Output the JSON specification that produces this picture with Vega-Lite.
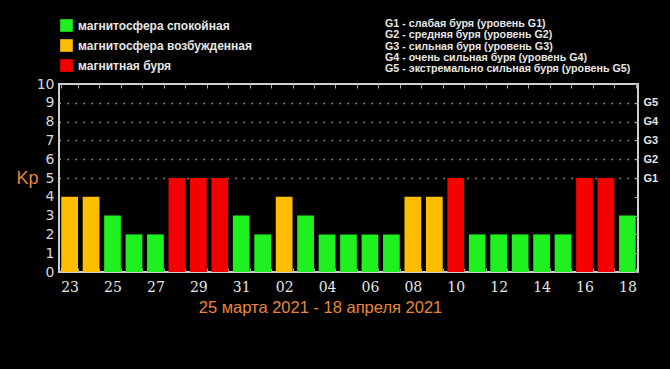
{
  "$schema": "https://vega.github.io/schema/vega-lite/v6.json",
  "width": 579,
  "height": 188,
  "autosize": {"type": "none"},
  "padding": {"left": 59, "top": 84, "right": 32, "bottom": 97},
  "background": "#000000",
  "config": {
    "view": {"stroke": "#cfcfcf", "strokeWidth": 2},
    "axis": {"domain": false}
  },
  "title": {
    "text": [
      "G1 - слабая буря (уровень G1)",
      "G2 - средняя буря (уровень G2)",
      "G3 - сильная буря (уровень G3)",
      "G4 - очень сильная буря (уровень G4)",
      "G5 - экстремально сильная буря (уровень G5)"
    ],
    "anchor": "start",
    "frame": "group",
    "orient": "top",
    "dx": 326,
    "dy": 68,
    "offset": 12,
    "font": "Liberation Sans",
    "fontWeight": "bold",
    "fontSize": 10.7,
    "lineHeight": 11.3,
    "color": "#e6e6e6"
  },
  "data": {
    "values": [
      {"d": "23", "kp": 4, "s": "магнитосфера возбужденная"},
      {"d": "24", "kp": 4, "s": "магнитосфера возбужденная"},
      {"d": "25", "kp": 3, "s": "магнитосфера спокойная"},
      {"d": "26", "kp": 2, "s": "магнитосфера спокойная"},
      {"d": "27", "kp": 2, "s": "магнитосфера спокойная"},
      {"d": "28", "kp": 5, "s": "магнитная буря"},
      {"d": "29", "kp": 5, "s": "магнитная буря"},
      {"d": "30", "kp": 5, "s": "магнитная буря"},
      {"d": "31", "kp": 3, "s": "магнитосфера спокойная"},
      {"d": "01", "kp": 2, "s": "магнитосфера спокойная"},
      {"d": "02", "kp": 4, "s": "магнитосфера возбужденная"},
      {"d": "03", "kp": 3, "s": "магнитосфера спокойная"},
      {"d": "04", "kp": 2, "s": "магнитосфера спокойная"},
      {"d": "05", "kp": 2, "s": "магнитосфера спокойная"},
      {"d": "06", "kp": 2, "s": "магнитосфера спокойная"},
      {"d": "07", "kp": 2, "s": "магнитосфера спокойная"},
      {"d": "08", "kp": 4, "s": "магнитосфера возбужденная"},
      {"d": "09", "kp": 4, "s": "магнитосфера возбужденная"},
      {"d": "10", "kp": 5, "s": "магнитная буря"},
      {"d": "11", "kp": 2, "s": "магнитосфера спокойная"},
      {"d": "12", "kp": 2, "s": "магнитосфера спокойная"},
      {"d": "13", "kp": 2, "s": "магнитосфера спокойная"},
      {"d": "14", "kp": 2, "s": "магнитосфера спокойная"},
      {"d": "15", "kp": 2, "s": "магнитосфера спокойная"},
      {"d": "16", "kp": 5, "s": "магнитная буря"},
      {"d": "17", "kp": 5, "s": "магнитная буря"},
      {"d": "18", "kp": 3, "s": "магнитосфера спокойная"}
    ]
  },
  "layer": [
    {
      "mark": {"type": "bar"},
      "encoding": {
        "x": {
          "field": "d",
          "type": "ordinal",
          "sort": null,
          "scale": {"paddingInner": 0.22, "paddingOuter": 0.105},
          "axis": {
            "orient": "bottom",
            "labelAngle": 0,
            "labelExpr": "round(datum.index * 26) % 2 == 0 ? datum.label : ''",
            "labelFont": "DejaVu Serif",
            "labelFontSize": 14,
            "labelColor": "#e6e6e6",
            "labelPadding": 12,
            "tickBand": "extent",
            "tickSize": -4,
            "tickColor": "#aaaaaa",
            "title": "25 марта 2021 - 18 апреля 2021",
            "titleFont": "Liberation Sans",
            "titleFontSize": 16.5,
            "titleFontWeight": "normal",
            "titleColor": "#e8873a",
            "titleAnchor": "middle",
            "titleAlign": "center",
            "titleX": 261,
            "titleY": 27,
            "titleBaseline": "top"
          }
        },
        "y": {
          "field": "kp",
          "type": "quantitative",
          "scale": {"domain": [0, 10]},
          "axis": {
            "orient": "left",
            "values": [0, 1, 2, 3, 4, 5, 6, 7, 8, 9, 10],
            "labelFont": "DejaVu Sans",
            "labelFontSize": 14,
            "labelColor": "#d8d8d8",
            "labelPadding": 5,
            "ticks": false,
            "grid": true,
            "gridDash": [1.5, 6.5],
            "gridColor": "#a0a0a0",
            "gridWidth": 1.5,
            "gridOpacity": {"expr": "datum.value >= 5 && datum.value <= 9 ? 1 : 0"},
            "title": "Kp",
            "titleAngle": 0,
            "titleFont": "Liberation Sans",
            "titleFontSize": 18,
            "titleFontWeight": "normal",
            "titleColor": "#e8873a",
            "titleX": -43,
            "titleY": 94,
            "titleAlign": "left",
            "titleBaseline": "middle"
          }
        },
        "color": {
          "field": "s",
          "type": "nominal",
          "scale": {
            "domain": ["магнитосфера спокойная", "магнитосфера возбужденная", "магнитная буря"],
            "range": ["#1ff01f", "#ffbf00", "#f50000"]
          },
          "legend": {
            "orient": "none",
            "legendX": 1,
            "legendY": -65,
            "title": null,
            "symbolType": "square",
            "symbolSize": 160,
            "symbolStrokeWidth": 0,
            "symbolOpacity": 1,
            "labelFont": "Liberation Sans",
            "labelFontWeight": "bold",
            "labelFontSize": 12,
            "labelColor": "#e6e6e6",
            "labelOffset": 5,
            "labelLimit": 400,
            "rowPadding": 7
          }
        }
      }
    },
    {
      "mark": {"type": "bar", "opacity": 0},
      "encoding": {
        "x": {
          "field": "d",
          "type": "ordinal",
          "sort": null,
          "axis": {
            "orient": "top",
            "labels": false,
            "tickBand": "extent",
            "tickSize": -4,
            "tickColor": "#aaaaaa",
            "title": null
          }
        },
        "y": {
          "field": "kp",
          "type": "quantitative",
          "axis": {
            "orient": "right",
            "values": [0, 1, 2, 3, 4, 5, 6, 7, 8, 9, 10],
            "labelExpr": "datum.value >= 5 && datum.value <= 9 ? 'G' + (datum.value - 4) : ''",
            "labelFont": "Liberation Sans",
            "labelFontWeight": "bold",
            "labelFontSize": 11,
            "labelColor": "#e6e6e6",
            "labelPadding": 9,
            "tickSize": -4,
            "tickColor": "#aaaaaa",
            "title": null
          }
        }
      }
    }
  ],
  "resolve": {"axis": {"x": "independent", "y": "independent"}}
}
